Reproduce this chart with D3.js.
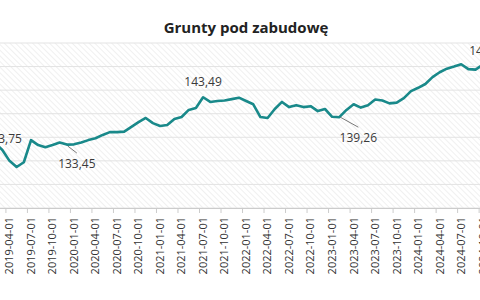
<!DOCTYPE html>
<html>
<head>
<meta charset="utf-8">
<script src="https://cdn.jsdelivr.net/npm/d3@7"></script>
<style>
  body { margin: 0; background: #fff; }
  svg { display: block; font-family: "Open Sans", sans-serif; }
</style>
</head>
<body>
<svg id="chart" width="480" height="300"></svg>
<script>
// monthly index values, 2019-01 .. 2024-11
const months = [
  "2019-01-01","2019-02-01","2019-03-01","2019-04-01","2019-05-01","2019-06-01","2019-07-01","2019-08-01","2019-09-01","2019-10-01","2019-11-01","2019-12-01",
  "2020-01-01","2020-02-01","2020-03-01","2020-04-01","2020-05-01","2020-06-01","2020-07-01","2020-08-01","2020-09-01","2020-10-01","2020-11-01","2020-12-01",
  "2021-01-01","2021-02-01","2021-03-01","2021-04-01","2021-05-01","2021-06-01","2021-07-01","2021-08-01","2021-09-01","2021-10-01","2021-11-01","2021-12-01",
  "2022-01-01","2022-02-01","2022-03-01","2022-04-01","2022-05-01","2022-06-01","2022-07-01","2022-08-01","2022-09-01","2022-10-01","2022-11-01","2022-12-01",
  "2023-01-01","2023-02-01","2023-03-01","2023-04-01","2023-05-01","2023-06-01","2023-07-01","2023-08-01","2023-09-01","2023-10-01","2023-11-01","2023-12-01",
  "2024-01-01","2024-02-01","2024-03-01","2024-04-01","2024-05-01","2024-06-01","2024-07-01","2024-08-01","2024-09-01","2024-10-01","2024-11-01"
];

const values = [
  133.2, 133.75, 132.3, 130.0, 128.7, 129.7, 134.4, 133.35, 132.9, 133.35, 133.9, 133.45,
  133.5, 133.9, 134.4, 134.8, 135.5, 136.1, 136.1, 136.2, 137.2, 138.2, 139.1, 138.0,
  137.4, 137.6, 138.9, 139.3, 140.8, 141.2, 143.49, 142.5, 142.7, 142.8, 143.1, 143.4,
  142.7, 142.0, 139.3, 139.1, 141.0, 142.5, 141.4, 141.8, 141.4, 141.6, 140.55, 141.0,
  139.35, 139.26, 140.8, 142.0, 141.3, 141.8, 143.0, 142.8, 142.2, 142.35, 143.3, 144.8,
  145.5, 146.3, 147.75, 148.8, 149.55, 150.0, 150.5, 149.45, 149.35, 150.4, 149.86
];

const tickLabels = [
  "2019-01-01","2019-04-01","2019-07-01","2019-10-01",
  "2020-01-01","2020-04-01","2020-07-01","2020-10-01",
  "2021-01-01","2021-04-01","2021-07-01","2021-10-01",
  "2022-01-01","2022-04-01","2022-07-01","2022-10-01",
  "2023-01-01","2023-04-01","2023-07-01","2023-10-01",
  "2024-01-01","2024-04-01","2024-07-01","2024-10-01"
];

const yTicks = [120, 125, 130, 135, 140, 145, 150, 155];

const labelledMonths = ["2019-02-01", "2019-12-01", "2021-07-01", "2023-02-01", "2024-11-01"];

// label placement relative to its point (style, not data)
const labelStyle = {
  "2019-02-01": { dx: 8, dy: 0 },
  "2019-12-01": { dx: 10, dy: 23.5, leader: [1, 1.5, 10, 8.5] },
  "2021-07-01": { dx: 0, dy: -11 },
  "2023-02-01": { dx: 19, dy: 24.5, leader: [1, 0, 19, 10] },
  "2024-11-01": { dx: -2, dy: -12 }
};

const svg = d3.select("#chart");
const width = +svg.attr("width");

const plotTop = 43, plotBottom = 208;
const step = 7.17;
const x0 = -15.6;

const x = d3.scaleBand()
  .domain(months)
  .range([x0, x0 + months.length * step]);

const y = d3.scaleLinear()
  .domain([120, 155])
  .range([plotBottom, plotTop]);

const data = months.map((m, i) => ({ month: m, value: values[i] }));
const cx = d => x(d.month) + x.bandwidth() / 2;

// hatched plot background
const defs = svg.append("defs");
const pat = defs.append("pattern")
  .attr("id", "hatch")
  .attr("patternUnits", "userSpaceOnUse")
  .attr("width", 4)
  .attr("height", 4)
  .attr("patternTransform", "rotate(-45)");
pat.append("line")
  .attr("x1", 0).attr("y1", 0)
  .attr("x2", 0).attr("y2", 4)
  .attr("stroke", "#e2e2e2")
  .attr("stroke-width", 1);

svg.append("rect")
  .attr("x", 0)
  .attr("y", plotTop)
  .attr("width", width)
  .attr("height", plotBottom - plotTop)
  .attr("fill", "url(#hatch)");

svg.append("g")
  .selectAll("line")
  .data(yTicks)
  .join("line")
  .attr("x1", 0)
  .attr("x2", width)
  .attr("y1", d => y(d))
  .attr("y2", d => y(d))
  .attr("stroke", "#e3e3e3")
  .attr("stroke-width", 1);

// x axis
const xAxis = svg.append("g")
  .attr("transform", `translate(0, ${plotBottom})`)
  .call(d3.axisBottom(x).tickValues(tickLabels).tickSize(5).tickSizeOuter(0));

xAxis.select(".domain").attr("stroke", "#ccc");
xAxis.selectAll(".tick line")
  .attr("stroke", "#ccc")
  .attr("x1", -step / 2)
  .attr("x2", -step / 2);
xAxis.selectAll(".tick text")
  .attr("transform", "rotate(-90)")
  .attr("x", -9)
  .attr("y", 0)
  .attr("dy", "0.35em")
  .attr("text-anchor", "end")
  .attr("fill", "#333")
  .style("font-size", "11px")
  .style("font-family", "'Open Sans', sans-serif");

// line
svg.append("path")
  .datum(data)
  .attr("fill", "none")
  .attr("stroke", "#19898a")
  .attr("stroke-width", 2.6)
  .attr("stroke-linejoin", "round")
  .attr("d", d3.line().x(cx).y(d => y(d.value)));

// value labels
const fmt = v => v.toFixed(2).replace(".", ",");
const labelled = data.filter(d => labelledMonths.includes(d.month));

labelled.filter(d => labelStyle[d.month].leader).forEach(d => {
  const l = labelStyle[d.month].leader;
  svg.append("line")
    .attr("x1", cx(d) + l[0]).attr("y1", y(d.value) + l[1])
    .attr("x2", cx(d) + l[2]).attr("y2", y(d.value) + l[3])
    .attr("stroke", "#555")
    .attr("stroke-width", 0.8);
});

svg.append("g")
  .selectAll("text")
  .data(labelled)
  .join("text")
  .attr("x", d => cx(d) + labelStyle[d.month].dx)
  .attr("y", d => y(d.value) + labelStyle[d.month].dy)
  .attr("text-anchor", "middle")
  .attr("fill", "#3a3a3a")
  .style("font-size", "12px")
  .text(d => fmt(d.value));

svg.append("text")
  .attr("x", 246)
  .attr("y", 33)
  .attr("text-anchor", "middle")
  .attr("fill", "#222")
  .style("font-size", "15px")
  .style("font-weight", "bold")
  .text("Grunty pod zabudowę");
</script>
</body>
</html>
